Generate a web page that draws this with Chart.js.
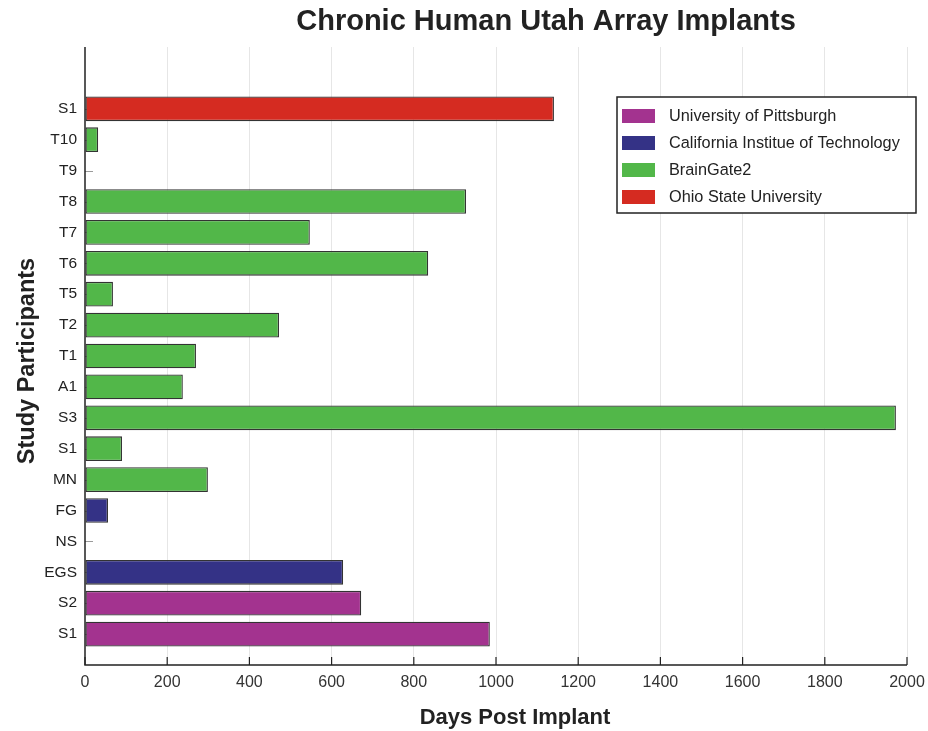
<!DOCTYPE html>
<html>
<head>
<meta charset="utf-8">
<script src="https://cdn.jsdelivr.net/npm/chart.js@4/dist/chart.umd.min.js"></script>
<style>
html,body{margin:0;padding:0;background:#fff;}
#wrap{width:928px;height:731px;}
</style>
</head>
<body>
<div id="wrap"><canvas id="c" width="928" height="731"></canvas></div>
<script>
// Categories listed bottom to top
const categories = ['S1','S2','EGS','NS','FG','MN','S1','S3','A1','T1','T2','T5','T6','T7','T8','T9','T10','S1'];
const days = [985, 672, 628, 0, 56, 299, 90, 1973, 238, 270, 472, 68, 835, 547, 927, 0, 32, 1141];
const groupOf = ['pitt','pitt','caltech','caltech','caltech','bg','bg','bg','bg','bg','bg','bg','bg','bg','bg','bg','bg','osu'];
const groupKeys = ['pitt','caltech','bg','osu'];
const groupNames = ['University of Pittsburgh','California Institue of Technology','BrainGate2','Ohio State University'];
const groupColors = ['#A3338F','#343286','#52B749','#D52B21'];
const xTicks = [0,200,400,600,800,1000,1200,1400,1600,1800,2000];

const FONT = '"Liberation Sans", Arial, Helvetica, sans-serif';

const datasets = groupKeys.map((g, gi) => ({
  label: groupNames[gi],
  data: categories.map((c, i) => groupOf[i] === g ? {x: days[i], y: i + 1} : null).filter(d => d),
  backgroundColor: groupColors[gi],
  borderColor: '#333',
  borderWidth: 1.3,
  borderSkipped: false,
  grouped: false,
  barPercentage: 0.8,
  categoryPercentage: 1.0
}));

const decor = {
  id: 'decor',
  beforeDatasetsDraw(chart) {
    const ctx = chart.ctx, y = chart.scales.y, a = chart.chartArea;
    ctx.save();
    ctx.strokeStyle = '#9a9a9a';
    ctx.lineWidth = 1;
    categories.forEach((c, i) => {
      const py = Math.round(y.getPixelForValue(i + 1)) + 0.5;
      ctx.beginPath(); ctx.moveTo(a.left, py); ctx.lineTo(a.left + 8, py); ctx.stroke();
    });
    ctx.restore();
  },
  afterDraw(chart) {
    const ctx = chart.ctx, x = chart.scales.x, a = chart.chartArea;
    ctx.save();
    ctx.strokeStyle = '#222';
    ctx.lineWidth = 1.5;
    ctx.beginPath();
    ctx.moveTo(a.left, a.top); ctx.lineTo(a.left, a.bottom); ctx.lineTo(a.right, a.bottom);
    ctx.stroke();
    ctx.lineWidth = 1.2;
    xTicks.forEach(v => {
      const px = x.getPixelForValue(v);
      ctx.beginPath(); ctx.moveTo(px, a.bottom); ctx.lineTo(px, a.bottom - 8); ctx.stroke();
    });
    ctx.fillStyle = '#222';
    ctx.textAlign = 'center';
    ctx.textBaseline = 'middle';
    ctx.font = 'bold 29px ' + FONT;
    ctx.fillText('Chronic Human Utah Array Implants', 546, 22);
    ctx.font = 'bold 22px ' + FONT;
    ctx.fillText('Days Post Implant', 515, 718);
    ctx.save();
    ctx.translate(28, 361);
    ctx.rotate(-Math.PI / 2);
    ctx.font = 'bold 23.5px ' + FONT;
    ctx.fillText('Study Participants', 0, 0);
    ctx.restore();
    const lx = 617, ly = 97, lw = 299, lh = 116;
    ctx.fillStyle = '#fff';
    ctx.fillRect(lx, ly, lw, lh);
    ctx.strokeStyle = '#222';
    ctx.lineWidth = 1.5;
    ctx.strokeRect(lx, ly, lw, lh);
    ctx.font = '16.3px ' + FONT;
    ctx.textAlign = 'left';
    groupNames.forEach((n, i) => {
      const cy = 116 + i * 27;
      ctx.fillStyle = groupColors[i];
      ctx.fillRect(622, cy - 7, 33, 14);
      ctx.fillStyle = '#222';
      ctx.fillText(n, 669, cy + 1);
    });
    ctx.restore();
  }
};

new Chart(document.getElementById('c'), {
  type: 'bar',
  data: { datasets },
  options: {
    indexAxis: 'y',
    responsive: false,
    animation: false,
    layout: { padding: { left: 0, right: 21, top: 47, bottom: 0 } },
    plugins: { legend: { display: false }, title: { display: false }, tooltip: { enabled: false } },
    scales: {
      x: {
        type: 'linear',
        min: 0, max: 2000,
        afterBuildTicks(s) { s.ticks = xTicks.map(v => ({value: v})); },
        grid: { color: (c) => c.tick && c.tick.value === 0 ? 'rgba(0,0,0,0)' : '#e6e6e6', lineWidth: 1, drawTicks: false },
        border: { display: false },
        ticks: { color: '#333', font: { family: FONT, size: 16 }, padding: 8, callback: (v) => String(v) },
        afterFit(s) { s.height = 66; s.paddingLeft = 0; s.paddingRight = 0; }
      },
      y: {
        type: 'linear',
        offset: false,
        min: 0, max: 20,
        afterBuildTicks(s) { const t = []; for (let v = 0; v <= 20; v++) t.push({value: v}); s.ticks = t; },
        grid: { display: false, drawTicks: false },
        border: { display: false },
        ticks: {
          autoSkip: false,
          color: '#222',
          font: { family: FONT, size: 15.5 },
          padding: 8,
          callback: (v) => (v >= 1 && v <= categories.length) ? categories[v - 1] : ''
        },
        afterFit(s) { s.width = 85; s.paddingTop = 0; s.paddingBottom = 0; }
      }
    }
  },
  plugins: [decor]
});
</script>
</body>
</html>
